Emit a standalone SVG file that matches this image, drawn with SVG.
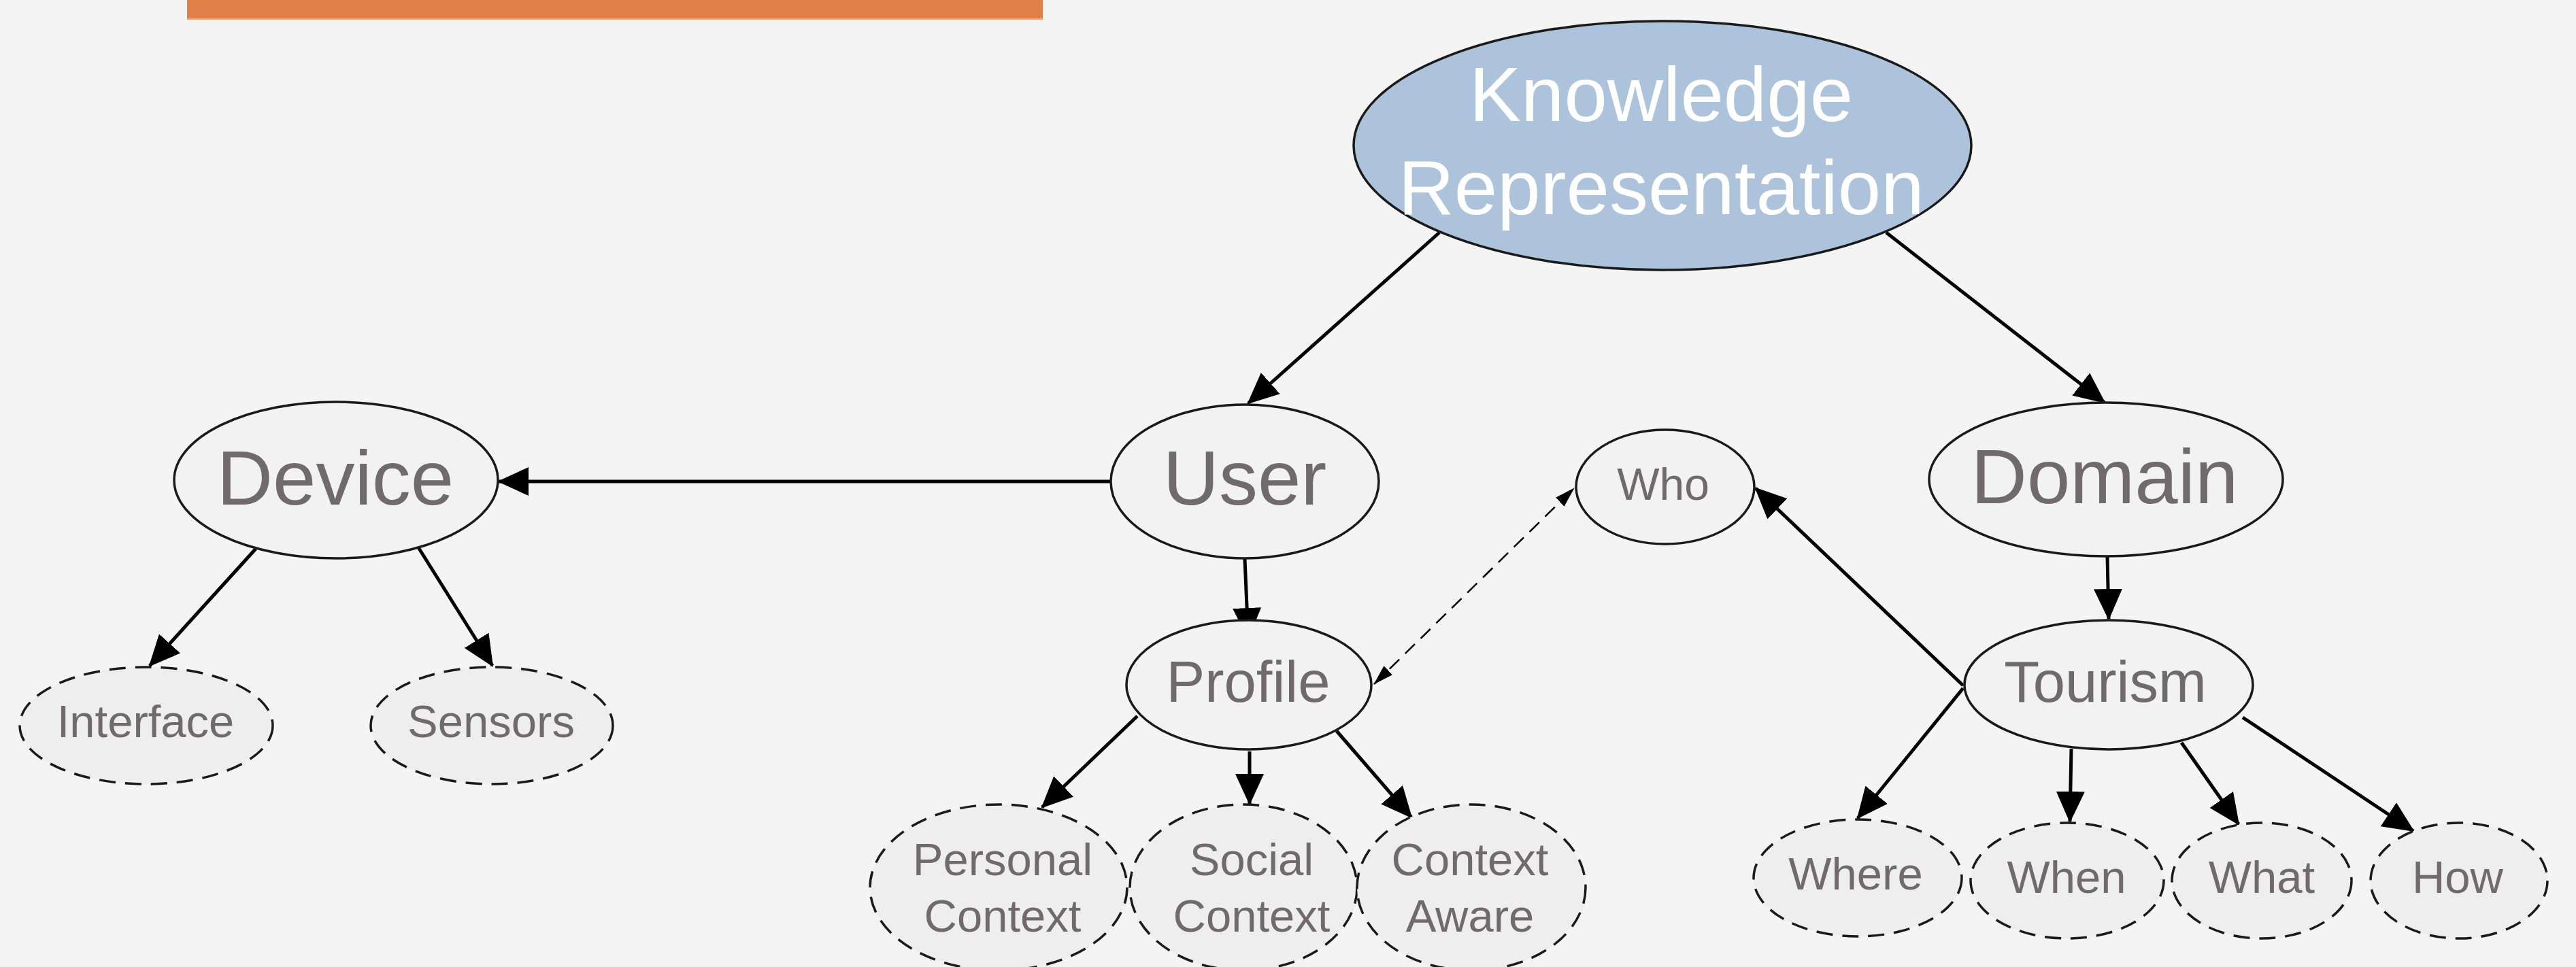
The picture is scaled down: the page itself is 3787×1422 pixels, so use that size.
<svg xmlns="http://www.w3.org/2000/svg" width="3787" height="1422" viewBox="0 0 3787 1422">
<defs>
<marker id="ah" markerUnits="userSpaceOnUse" markerWidth="46" markerHeight="42" viewBox="0 0 46 42" refX="44" refY="21" orient="auto"><path d="M0,0 L46,21 L0,42 z" fill="#000"/></marker>
<marker id="as" markerUnits="userSpaceOnUse" markerWidth="30" markerHeight="18" viewBox="0 0 30 18" refX="29" refY="9" orient="auto-start-reverse"><path d="M0,0 L30,9 L0,18 z" fill="#000"/></marker>
</defs>
<style>
.n ellipse{fill:#F2F2F2;stroke:#1a1a1a;stroke-width:3.5}
.d ellipse{fill:#EEEEEE;stroke:#1a1a1a;stroke-width:3.5;stroke-dasharray:24 14}
text{font-family:"Liberation Sans",Arial,sans-serif;fill:#716a6b;text-anchor:middle}
.c path{stroke:#000;stroke-width:5;fill:none;marker-end:url(#ah)}
.c path.dl{stroke-width:2.5;stroke-dasharray:20 12;marker-start:url(#as);marker-end:url(#as)}
</style>
<rect x="0" y="0" width="3787" height="1422" fill="#F4F4F4"/>
<rect x="275" y="0" width="1258" height="27" fill="#DF8049"/>
<rect x="275" y="27" width="1258" height="2" fill="#EBAA84"/>

<g class="c" id="connectors">
<path d="M2116,342 L1835,593"/>
<path d="M2773,342 L3094,592"/>
<path d="M1632,708 L733,708"/>
<path d="M376,807 L220,979"/>
<path d="M615,805 L724,979"/>
<path d="M1830,822 L1835,938"/>
<path d="M3098,818 L3100,910"/>
<path d="M2886,1008 L2581,718"/>
<path class="dl" d="M2020,1006 L2314,718"/>
<path d="M1672,1053 L1532,1187"/>
<path d="M1837,1105 L1837,1182"/>
<path d="M1965,1075 L2075,1202"/>
<path d="M2886,1012 L2731,1203"/>
<path d="M3045,1101 L3043,1208"/>
<path d="M3207,1092 L3291,1212"/>
<path d="M3297,1055 L3548,1222"/>
</g>

<g id="kr">
<ellipse cx="2444" cy="214" rx="454" ry="183" fill="#ADC2DB" stroke="#1a1a1a" stroke-width="3.5"/>
<text x="2442" y="178" font-size="114" style="fill:#FFFFFF">Knowledge</text>
<text x="2442" y="315" font-size="114" style="fill:#FFFFFF">Representation</text>
</g>
<g id="device" class="n"><ellipse cx="494" cy="706" rx="238" ry="115"/><text x="493" y="742" font-size="114">Device</text></g>
<g id="user" class="n"><ellipse cx="1830" cy="708" rx="197" ry="113"/><text x="1830" y="742" font-size="114">User</text></g>
<g id="domain" class="n"><ellipse cx="3096" cy="705" rx="260" ry="113"/><text x="3094" y="740" font-size="114">Domain</text></g>
<g id="who" class="n"><ellipse cx="2448" cy="716" rx="131" ry="84"/><text x="2445" y="735" font-size="66">Who</text></g>
<g id="profile" class="n"><ellipse cx="1836" cy="1007" rx="180" ry="95"/><text x="1835" y="1032" font-size="85">Profile</text></g>
<g id="tourism" class="n"><ellipse cx="3100" cy="1007" rx="212" ry="95"/><text x="3095" y="1032" font-size="85">Tourism</text></g>
<g id="interface" class="d"><ellipse cx="215" cy="1067" rx="186" ry="86"/><text x="214" y="1084" font-size="67">Interface</text></g>
<g id="sensors" class="d"><ellipse cx="723" cy="1067" rx="178" ry="86"/><text x="722" y="1084" font-size="67">Sensors</text></g>
<g id="personal" class="d"><ellipse cx="1468" cy="1305" rx="189" ry="122"/><text x="1474" y="1287" font-size="67">Personal</text><text x="1474" y="1370" font-size="67">Context</text></g>
<g id="social" class="d"><ellipse cx="1828" cy="1305" rx="167" ry="122"/><text x="1840" y="1287" font-size="67">Social</text><text x="1840" y="1370" font-size="67">Context</text></g>
<g id="aware" class="d"><ellipse cx="2163" cy="1305" rx="168" ry="122"/><text x="2161" y="1287" font-size="67">Context</text><text x="2161" y="1370" font-size="67">Aware</text></g>
<g id="where" class="d"><ellipse cx="2731" cy="1291" rx="153" ry="86"/><text x="2728" y="1308" font-size="67">Where</text></g>
<g id="when" class="d"><ellipse cx="3039" cy="1295" rx="142" ry="85"/><text x="3038" y="1313" font-size="67">When</text></g>
<g id="what" class="d"><ellipse cx="3325" cy="1295" rx="132" ry="85"/><text x="3325" y="1313" font-size="67">What</text></g>
<g id="how" class="d"><ellipse cx="3615" cy="1295" rx="130" ry="85"/><text x="3613" y="1313" font-size="67">How</text></g>
</svg>
